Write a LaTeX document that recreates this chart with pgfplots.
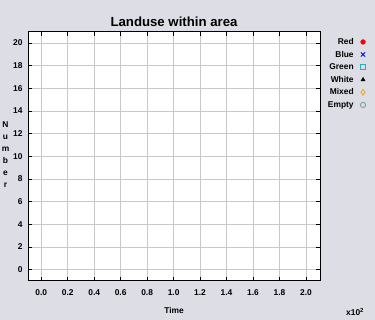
\documentclass[border=0pt]{standalone}
\usepackage{fontspec}
\setmainfont{Liberation Sans}
\usepackage{pgfplots}
\pgfplotsset{compat=1.18}

\definecolor{panelbg}{RGB}{221,221,229}
\definecolor{gridgray}{RGB}{200,200,200}
\definecolor{markcyan}{RGB}{40,175,190}
\definecolor{markorange}{RGB}{240,165,40}
\definecolor{markgrey}{RGB}{120,160,165}

\newcommand{\tickfont}{\fontsize{8.4}{10}\selectfont\bfseries}

\begin{document}
\begin{tikzpicture}[x=1pt,y=1pt]
  % canvas
  \fill[panelbg] (0,0) rectangle (375,320);

  \begin{axis}[
    at={(174pt,163.65pt)}, anchor=center,
    scale only axis, width=292pt, height=249.3pt,
    xmin=-0.1, xmax=2.106, ymin=-1, ymax=21,
    axis background/.style={fill=white},
    xtick={0,0.2,0.4,0.6,0.8,1.0,1.2,1.4,1.6,1.8,2.0},
    ytick={0,2,4,6,8,10,12,14,16,18,20},
    xtick pos=both, ytick pos=both,
    xticklabel pos=bottom, yticklabel pos=left,
    tick align=inside, major tick length=4pt,
    tick style={black, line width=0.9pt},
    grid=major, grid style={gridgray, line width=0.8pt},
    axis line style={black, line width=1pt},
    scaled x ticks=false,
    xticklabel style={/pgf/number format/fixed, /pgf/number format/fixed zerofill,
      /pgf/number format/precision=1},
    /pgf/number format/assume math mode=true,
    ticklabel style={font=\tickfont},
    xticklabel style={yshift=-5pt},
    yticklabel style={xshift=-2pt},
    title={Landuse within area},
    title style={font=\fontsize{13.2}{15}\selectfont\bfseries,
      at={(axis description cs:0.5,1)}, anchor=base, yshift=-1pt},
    xlabel={Time},
    xlabel style={font=\tickfont, at={(axis description cs:0.5,0)}, anchor=base, yshift=-33pt},
    ylabel={N\\u\\m\\b\\e\\r},
    ylabel style={font=\fontsize{8.4}{12}\selectfont\bfseries, align=center, rotate=-90,
      at={(axis description cs:-0.077,0.505)}, anchor=center},
    legend plot pos=right,
    legend cell align=right,
    legend image code/.code={\draw[#1] plot coordinates {(0pt,0pt)};},
    legend style={draw=none, fill=none, font=\tickfont, inner sep=0pt,
      at={(axis description cs:1.157,0.985)}, anchor=north east,
      row sep=0pt, column sep=4pt,
      nodes={text height=6pt, text depth=1pt, inner sep=2.8pt}},
  ]
    \addlegendimage{only marks, mark=*, red, mark size=2.4pt}
    \addlegendentry{Red}
    \addlegendimage{only marks, mark=x, blue, mark size=3pt, line width=0.9pt}
    \addlegendentry{Blue}
    \addlegendimage{only marks, mark=square, markcyan, mark size=2.6pt, line width=0.9pt}
    \addlegendentry{Green}
    \addlegendimage{only marks, mark=triangle*, black, mark size=2.4pt}
    \addlegendentry{White}
    \addlegendimage{only marks, mark=diamond, markorange, mark size=2.8pt, line width=0.9pt}
    \addlegendentry{Mixed}
    \addlegendimage{only marks, mark=o, markgrey, mark size=2.6pt, line width=0.9pt}
    \addlegendentry{Empty}
  \end{axis}

  % axis multiplier for the time axis
  \node[anchor=base west, inner sep=0pt, font=\tickfont] at (346,4.5) {x10\textsuperscript{2}};

  % page size is the canvas
  \pgfresetboundingbox
  \path[use as bounding box] (0,0) rectangle (375,320);
\end{tikzpicture}
\end{document}
